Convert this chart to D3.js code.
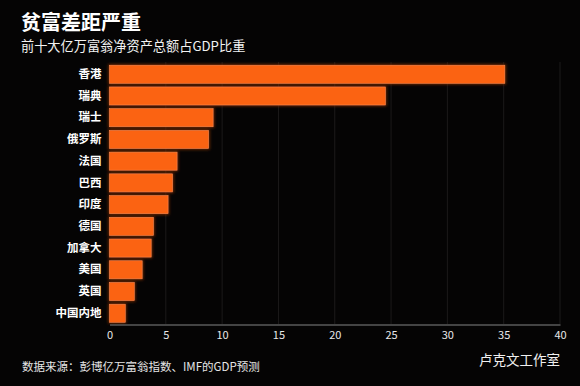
<!DOCTYPE html>
<html><head><meta charset="utf-8">
<script src="https://cdn.jsdelivr.net/npm/d3@7"></script>
<style>html,body{margin:0;padding:0;background:#050404;}svg{display:block;}</style>
</head><body>
<script>
const categories = ["香港","瑞典","瑞士","俄罗斯","法国","巴西","印度","德国","加拿大","美国","英国","中国内地"];
const values = [35.1,24.5,9.2,8.8,6.0,5.6,5.2,3.9,3.7,2.9,2.2,1.4];
const tickValues = [0,5,10,15,20,25,30,35,40];
const title = "贫富差距严重";
const subtitle = "前十大亿万富翁净资产总额占GDP比重";
const source = "数据来源：彭博亿万富翁指数、IMF的GDP预测";
const watermark = "卢克文工作室";

const W = 580, H = 386;
const font = "'Noto Sans CJK SC','Noto Sans',sans-serif";
const svg = d3.select("body").append("svg").attr("width", W).attr("height", H)
  .style("background", "#050404");

const x = d3.scaleLinear().domain([0, 40]).range([109.5, 560]);
const y = d3.scaleBand().domain(categories).range([63.5, 324]).paddingInner(0.17).paddingOuter(0.08);

// gridlines
svg.append("g").selectAll("line").data(tickValues.filter(d => d > 0)).join("line")
  .attr("x1", d => x(d)).attr("x2", d => x(d))
  .attr("y1", 62).attr("y2", 324)
  .attr("stroke", "#1c1a1a").attr("stroke-width", 1);

// bars glow
const defs = svg.append("defs");
const f = defs.append("filter").attr("id","glow").attr("x","-10%").attr("y","-40%").attr("width","120%").attr("height","180%");
f.append("feGaussianBlur").attr("stdDeviation", 1.5);

svg.append("g").selectAll("rect").data(categories).join("rect")
  .attr("x", x(0) - 1).attr("y", d => y(d) - 1)
  .attr("width", (d, i) => x(values[i]) - x(0) + 2).attr("height", y.bandwidth() + 2)
  .attr("fill", "#7a2a08").attr("filter", "url(#glow)");

svg.append("g").selectAll("rect").data(categories).join("rect")
  .attr("x", x(0)).attr("y", d => y(d))
  .attr("width", (d, i) => x(values[i]) - x(0)).attr("height", y.bandwidth())
  .attr("fill", "#fb6312").attr("stroke", "#f88a50").attr("stroke-width", 0.6);

// x axis
const xAxis = d3.axisBottom(x).tickValues(tickValues).tickSize(0).tickPadding(7);
const gx = svg.append("g").attr("transform", `translate(0,${324.5})`).call(xAxis);
gx.select(".domain").attr("stroke", "#5a5a5a").attr("stroke-width", 1.5);
gx.selectAll("text").attr("fill", "#e8e8e8").style("font-family", font).style("font-size", "11px");

// y axis labels
const yAxis = d3.axisLeft(y).tickSize(0).tickPadding(8);
const gy = svg.append("g").attr("transform", `translate(${x(0)},0)`).call(yAxis);
gy.select(".domain").remove();
gy.selectAll("text").attr("fill", "#ffffff").style("font-family", font)
  .style("font-size", "11.5px").style("font-weight", "bold");

// titles
svg.append("text").attr("x", 21).attr("y", 30).text(title)
  .attr("fill", "#ffffff").style("font-family", font).style("font-size", "20px").style("font-weight", "bold");
svg.append("text").attr("x", 21).attr("y", 51).text(subtitle)
  .attr("fill", "#f2f2f2").style("font-family", font).style("font-size", "13.2px");

svg.append("text").attr("x", 22).attr("y", 371).text(source)
  .attr("fill", "#e6e6e6").style("font-family", font).style("font-size", "11.5px");

svg.append("text").attr("x", 560).attr("y", 365).attr("text-anchor", "end").text(watermark)
  .attr("fill", "#f0f0f0").style("font-family", font).style("font-size", "13.5px");
</script>
</body></html>
